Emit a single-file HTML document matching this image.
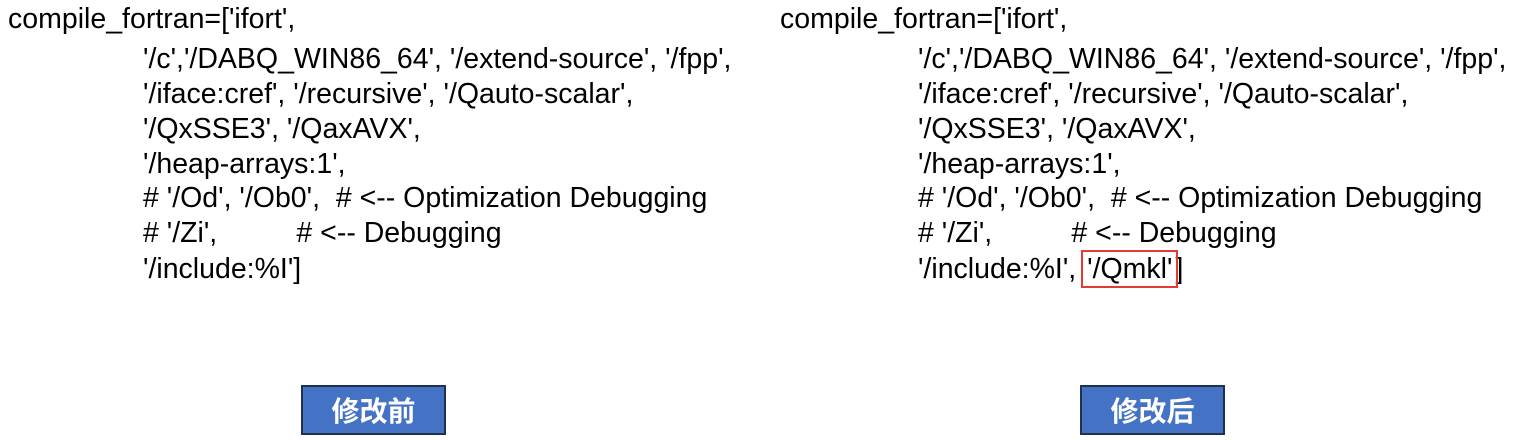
<!DOCTYPE html>
<html><head><meta charset="utf-8"><style>
body{margin:0;width:1531px;height:440px;background:#fff;position:relative;overflow:hidden;font-family:"Liberation Sans","Noto Sans CJK SC",sans-serif;}
.l{position:absolute;font-size:28.5px;line-height:34px;white-space:pre;color:#000;}
.btn{position:absolute;top:385px;width:141px;height:46px;background:#4472c4;border:2px solid #1f3050;color:#fff;font-size:28px;font-weight:bold;text-align:center;line-height:46px;font-family:"Noto Sans CJK SC",sans-serif;}
.red{outline:2px solid #e53935;outline-offset:1px;padding:0 3px;}
</style></head><body>
<div class="l" style="left:8px;top:2px">compile_fortran=['ifort',</div>
<div class="l" style="left:143px;top:42px">'/c','/DABQ_WIN86_64', '/extend-source', '/fpp',</div>
<div class="l" style="left:143px;top:77px">'/iface:cref', '/recursive', '/Qauto-scalar',</div>
<div class="l" style="left:143px;top:112px">'/QxSSE3', '/QaxAVX',</div>
<div class="l" style="left:143px;top:147px">'/heap-arrays:1',</div>
<div class="l" style="left:143px;top:181px"># '/Od', '/Ob0',  # &lt;-- Optimization Debugging</div>
<div class="l" style="left:143px;top:216px"># '/Zi',          # &lt;-- Debugging</div>
<div class="l" style="left:143px;top:252px">'/include:%I']</div>

<div class="l" style="left:780px;top:2px">compile_fortran=['ifort',</div>
<div class="l" style="left:918px;top:42px">'/c','/DABQ_WIN86_64', '/extend-source', '/fpp',</div>
<div class="l" style="left:918px;top:77px">'/iface:cref', '/recursive', '/Qauto-scalar',</div>
<div class="l" style="left:918px;top:112px">'/QxSSE3', '/QaxAVX',</div>
<div class="l" style="left:918px;top:147px">'/heap-arrays:1',</div>
<div class="l" style="left:918px;top:181px"># '/Od', '/Ob0',  # &lt;-- Optimization Debugging</div>
<div class="l" style="left:918px;top:216px"># '/Zi',          # &lt;-- Debugging</div>
<div class="l" style="left:918px;top:252px">'/include:%I', <span class="red">'/Qmkl'</span>]</div>

<div class="btn" style="left:301px">修改前</div>
<div class="btn" style="left:1080px">修改后</div>
</body></html>
